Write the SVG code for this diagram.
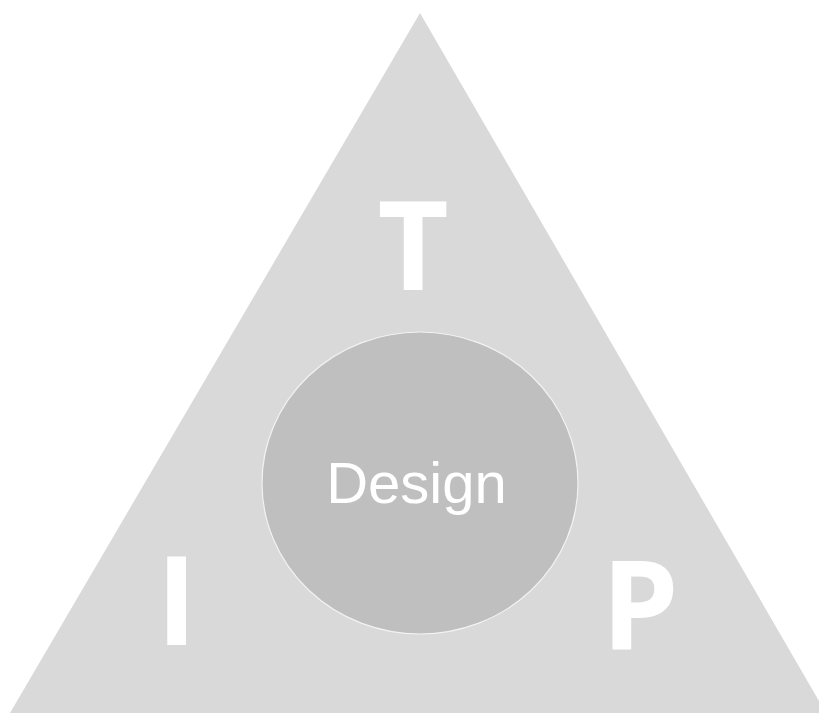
<svg xmlns="http://www.w3.org/2000/svg" width="819" height="713" viewBox="0 0 819 713">
<style>
.letter{font-family:"Open Sans","Liberation Sans",sans-serif;font-weight:700;font-size:123px;fill:#ffffff;text-anchor:middle}
.label{font-family:"Liberation Sans",Arial,sans-serif;font-size:58px;fill:#ffffff;text-anchor:middle}
</style>
<rect width="819" height="713" fill="#ffffff"/>
<g id="triangle">
<polygon points="420,13 10,713 826,713" fill="#d9d9d9"/>
</g>
<g id="T"><text class="letter" x="413" y="290">T</text></g>
<g id="I"><text class="letter" x="176.5" y="645">I</text></g>
<g id="P"><text class="letter" x="640" y="650">P</text></g>
<g id="design">
<ellipse cx="420" cy="483" rx="158" ry="151" fill="#bfbfbf" stroke="#f2f2f2" stroke-width="1.2"/>
<text class="label" x="416.5" y="503">Design</text>
</g>
<g id="connectors"/>
</svg>
